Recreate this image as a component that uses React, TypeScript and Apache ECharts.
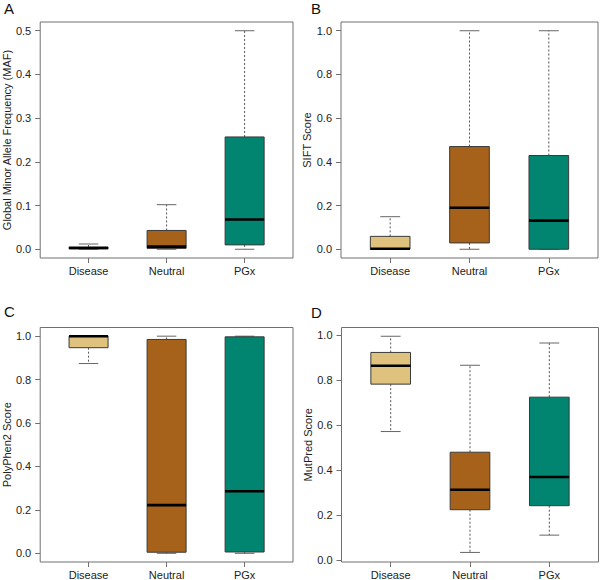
import React, { useEffect, useRef } from "react";
import * as echarts from "echarts";

const categories = ["Disease", "Neutral", "PGx"];
const boxColors = ["#DFC27D", "#A6611A", "#018571"];

// [lowerWhisker, q1, median, q3, upperWhisker] per category
const mafStats = [
  [0.0, 0.001, 0.003, 0.005, 0.012],
  [0.0, 0.002, 0.006, 0.043, 0.102],
  [0.0, 0.010, 0.068, 0.257, 0.5],
];
const siftStats = [
  [0.0, 0.0, 0.002, 0.059, 0.149],
  [0.0, 0.029, 0.19, 0.47, 1.0],
  [0.0, 0.0, 0.131, 0.429, 1.0],
];
const polyphenStats = [
  [0.874, 0.947, 1.0, 1.0, 1.0],
  [0.0, 0.005, 0.222, 0.985, 1.0],
  [0.0, 0.006, 0.286, 0.997, 1.0],
];
const mutpredStats = [
  [0.572, 0.783, 0.865, 0.924, 0.996],
  [0.034, 0.224, 0.313, 0.48, 0.867],
  [0.111, 0.242, 0.37, 0.725, 0.966],
];

const mafTicks = [0, 0.1, 0.2, 0.3, 0.4, 0.5];
const scoreTicks = [0, 0.2, 0.4, 0.6, 0.8, 1.0];

const panelLetters = ["A", "B", "C", "D"];
const yTitles = [
  "Global Minor Allele Frequency (MAF)",
  "SIFT Score",
  "PolyPhen2 Score",
  "MutPred Score",
];

const FONT = "'Liberation Sans', Arial, Helvetica, sans-serif";

export default function App() {
  const ref = useRef<HTMLDivElement>(null);
  useEffect(() => {
    document.body.style.margin = "0";
    const chart = echarts.init(ref.current!, null, { renderer: "svg" });

    const grids = [
      { left: 36, top: 22, width: 257, height: 236 },
      { left: 341, top: 22, width: 257, height: 236 },
      { left: 36, top: 327.5, width: 257, height: 237.5 },
      { left: 341.5, top: 327.5, width: 257, height: 237.5 },
    ];
    const yRanges = [
      [-0.02, 0.52],
      [-0.04, 1.04],
      [-0.04, 1.04],
      [-0.0086, 1.035],
    ];
    const statsList = [mafStats, siftStats, polyphenStats, mutpredStats];
    const tickList = [mafTicks, scoreTicks, scoreTicks, scoreTicks];

    const renderItem = (params: any, api: any) => {
      const x = api.value(0);
      const low = api.value(1);
      const q1 = api.value(2);
      const med = api.value(3);
      const q3 = api.value(4);
      const high = api.value(5);
      const pLow = api.coord([x, low]);
      const pQ1 = api.coord([x, q1]);
      const pMed = api.coord([x, med]);
      const pQ3 = api.coord([x, q3]);
      const pHigh = api.coord([x, high]);
      const boxW = api.size([0.5, 0])[0];
      const hw = boxW / 2;
      const cw = hw / 2;
      const cx = pMed[0];
      const color = boxColors[params.dataIndex];
      const dash = { stroke: "#555", lineWidth: 1, lineDash: [2, 2] };
      const cap = { stroke: "#666", lineWidth: 1 };
      return {
        type: "group",
        children: [
          { type: "line", shape: { x1: cx, y1: pQ3[1], x2: cx, y2: pHigh[1] }, style: dash },
          { type: "line", shape: { x1: cx, y1: pQ1[1], x2: cx, y2: pLow[1] }, style: dash },
          { type: "line", shape: { x1: cx - cw, y1: pHigh[1], x2: cx + cw, y2: pHigh[1] }, style: cap },
          { type: "line", shape: { x1: cx - cw, y1: pLow[1], x2: cx + cw, y2: pLow[1] }, style: cap },
          {
            type: "rect",
            shape: { x: cx - hw, y: pQ3[1], width: boxW, height: pQ1[1] - pQ3[1] },
            style: { fill: color, stroke: "#3a3a3a", lineWidth: 1 },
          },
          {
            type: "line",
            shape: { x1: cx - hw, y1: pMed[1], x2: cx + hw, y2: pMed[1] },
            style: { stroke: "#000", lineWidth: 2.6 },
          },
        ],
      };
    };

    const option: any = {
      animation: false,
      textStyle: { fontFamily: FONT },
      grid: grids.map((g) => ({
        ...g,
        show: true,
        borderColor: "#707070",
        borderWidth: 1,
        backgroundColor: "transparent",
      })),
      xAxis: grids.map((_, i) => ({
        type: "value",
        gridIndex: i,
        min: 0.38,
        max: 3.62,
        position: "bottom",
        axisLine: { show: false, onZero: false },
        splitLine: { show: false },
        axisTick: {
          show: true,
          length: 5,
          customValues: [1, 2, 3],
          lineStyle: { color: "#707070" },
        },
        axisLabel: {
          customValues: [1, 2, 3],
          formatter: (v: number) => categories[Math.round(v) - 1] ?? "",
          fontSize: 11,
          color: "#222",
          margin: 7,
          fontFamily: FONT,
        },
      })),
      yAxis: grids.map((_, i) => ({
        type: "value",
        gridIndex: i,
        min: yRanges[i][0],
        max: yRanges[i][1],
        position: "left",
        name: yTitles[i],
        nameLocation: "middle",
        nameRotate: 90,
        nameGap: 26,
        nameTextStyle: { fontSize: 11, color: "#222", fontFamily: FONT },
        axisLine: { show: false, onZero: false },
        splitLine: { show: false },
        axisTick: {
          show: true,
          length: 5,
          customValues: tickList[i],
          lineStyle: { color: "#707070" },
        },
        axisLabel: {
          customValues: tickList[i],
          formatter: (v: number) => v.toFixed(1),
          fontSize: 11,
          color: "#222",
          margin: 9,
          fontFamily: FONT,
        },
      })),
      series: statsList.map((stats, i) => ({
        type: "custom",
        xAxisIndex: i,
        yAxisIndex: i,
        renderItem,
        clip: true,
        encode: { x: 0, y: [1, 2, 3, 4, 5] },
        data: stats.map((s, k) => [k + 1, ...s]),
      })),
      graphic: [
        { type: "text", left: 4, top: 1, style: { text: panelLetters[0], fontSize: 15, fill: "#111", fontFamily: FONT } },
        { type: "text", left: 311, top: 1, style: { text: panelLetters[1], fontSize: 15, fill: "#111", fontFamily: FONT } },
        { type: "text", left: 4, top: 304, style: { text: panelLetters[2], fontSize: 15, fill: "#111", fontFamily: FONT } },
        { type: "text", left: 311, top: 305, style: { text: panelLetters[3], fontSize: 15, fill: "#111", fontFamily: FONT } },
      ],
    };
    chart.setOption(option);
    return () => chart.dispose();
  }, []);
  return <div ref={ref} style={{ width: 600, height: 580 }} />;
}
